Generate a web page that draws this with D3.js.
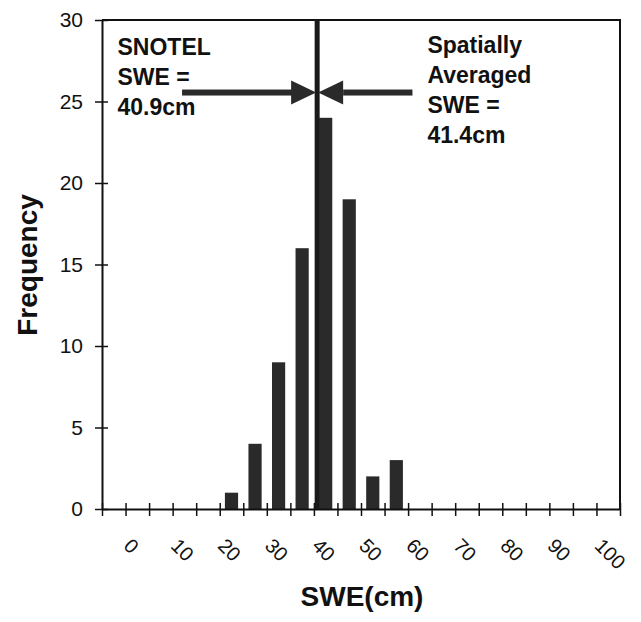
<!DOCTYPE html>
<html>
<head>
<meta charset="utf-8">
<script src="https://cdn.jsdelivr.net/npm/d3@7"></script>
<style>
  body { margin: 0; background: #fff; }
  text { font-family: "Liberation Sans", Arial, sans-serif; }
</style>
</head>
<body>
<div id="chart"></div>
<script>
// histogram of SWE values (bins are 5 cm wide)
var binStarts = [20, 25, 30, 35, 40, 45, 50, 55];
var frequencies = [1, 4, 9, 16, 24, 19, 2, 3];
var binWidth = 5;
var yTickValues = [0, 5, 10, 15, 20, 25, 30];
var xTickLabels = [0, 10, 20, 30, 40, 50, 60, 70, 80, 90, 100];
var snotelSWE = 40.9;
var snotelText = ["SNOTEL", "SWE =", "40.9cm"];
var averagedText = ["Spatially", "Averaged", "SWE =", "41.4cm"];

var svgWidth = 641;
var svgHeight = 622;

var margin = { top: 20, right: 21, bottom: 113, left: 102 };
var width = svgWidth - margin.left - margin.right;
var height = svgHeight - margin.top - margin.bottom;

var svg = d3.select("#chart")
  .append("svg")
  .attr("width", svgWidth)
  .attr("height", svgHeight);

var chartGroup = svg.append("g")
  .attr("transform", `translate(${margin.left}, ${margin.top})`);

// scales
var xScale = d3.scaleLinear().domain([-5, 105]).range([0, width]);
var yScale = d3.scaleLinear().domain([0, 30]).range([height, 0]);

var data = binStarts.map((b, i) => ({ x0: b, x1: b + binWidth, count: frequencies[i] }));

// bars
var step = xScale(binWidth) - xScale(0);
var barW = step * 0.56;
chartGroup.selectAll("rect.bar")
  .data(data)
  .enter()
  .append("rect")
  .attr("class", "bar")
  .attr("x", d => xScale((d.x0 + d.x1) / 2) - barW / 2)
  .attr("y", d => yScale(d.count))
  .attr("width", barW)
  .attr("height", d => height - yScale(d.count))
  .attr("fill", "#2a2a2a");

// frame top / right
chartGroup.append("path")
  .attr("d", `M0,0H${width}V${height}`)
  .attr("fill", "none")
  .attr("stroke", "#111")
  .attr("stroke-width", 2);

// y axis
var leftAxis = d3.axisLeft(yScale).tickValues(yTickValues).tickSize(0).tickPadding(19);
var yAxisG = chartGroup.append("g").call(leftAxis);
yAxisG.select(".domain").attr("stroke", "#111").attr("stroke-width", 2);
yAxisG.selectAll(".tick").append("line")
  .attr("x1", -7).attr("x2", 6)
  .attr("stroke", "#111").attr("stroke-width", 1.5);
yAxisG.selectAll("text")
  .style("font-size", "21px")
  .attr("fill", "#111");

// x axis
var bottomAxis = d3.axisBottom(xScale).tickValues(d3.range(-5, 106, 5)).tickSize(0).tickFormat("");
var xAxisG = chartGroup.append("g")
  .attr("transform", `translate(0, ${height})`)
  .call(bottomAxis);
xAxisG.select(".domain").attr("stroke", "#111").attr("stroke-width", 2);
xAxisG.selectAll(".tick").append("line")
  .attr("y1", -6).attr("y2", 7)
  .attr("stroke", "#111").attr("stroke-width", 1.5);

chartGroup.selectAll("text.xlabel")
  .data(xTickLabels)
  .enter()
  .append("text")
  .attr("class", "xlabel")
  .attr("transform", d => `translate(${xScale(d) - 3}, ${height + 38}) rotate(45)`)
  .style("font-size", "20px")
  .attr("fill", "#111")
  .text(d => d);

// vertical line at SNOTEL SWE
var lineX = xScale(snotelSWE) - 1;
chartGroup.append("rect")
  .attr("x", lineX - 2.5)
  .attr("y", 0)
  .attr("width", 5)
  .attr("height", height)
  .attr("fill", "#1a1a1a");

// arrows pointing to the line
var arrowY = yScale(25.55);
function arrow(fromVal, tipX) {
  var fromX = xScale(fromVal);
  var dir = tipX > fromX ? 1 : -1;
  var headLen = 25, headHalf = 12;
  chartGroup.append("rect")
    .attr("x", Math.min(fromX, tipX - dir * headLen))
    .attr("y", arrowY - 3)
    .attr("width", Math.abs(tipX - dir * headLen - fromX) + 2)
    .attr("height", 6)
    .attr("fill", "#2a2a2a");
  chartGroup.append("path")
    .attr("d", `M${tipX},${arrowY}L${tipX - dir * headLen},${arrowY - headHalf}L${tipX - dir * headLen},${arrowY + headHalf}Z`)
    .attr("fill", "#2a2a2a");
}
arrow(12, lineX - 1);
arrow(60.5, lineX + 1);

// annotations
var noteLeft = chartGroup.append("text")
  .attr("x", xScale(-1.7))
  .attr("y", 35)
  .style("font-size", "23px")
  .style("font-weight", "bold")
  .attr("fill", "#111");
noteLeft.selectAll("tspan")
  .data(snotelText)
  .enter()
  .append("tspan")
  .attr("x", xScale(-1.7))
  .attr("dy", (d, i) => i === 0 ? 0 : 30)
  .text(d => d);

var noteRight = chartGroup.append("text")
  .attr("x", xScale(64.1))
  .attr("y", 33)
  .style("font-size", "23px")
  .style("font-weight", "bold")
  .attr("fill", "#111");
noteRight.selectAll("tspan")
  .data(averagedText)
  .enter()
  .append("tspan")
  .attr("x", xScale(64.1))
  .attr("dy", (d, i) => i === 0 ? 0 : 30)
  .text(d => d);

// axis titles
svg.append("text")
  .attr("transform", "translate(37, 265) rotate(-90)")
  .style("text-anchor", "middle")
  .style("font-size", "28px")
  .style("font-weight", "bold")
  .attr("fill", "#111")
  .text("Frequency");

svg.append("text")
  .attr("x", 362)
  .attr("y", 606)
  .style("text-anchor", "middle")
  .style("font-size", "28px")
  .style("font-weight", "bold")
  .attr("fill", "#111")
  .text("SWE(cm)");
</script>
</body>
</html>
